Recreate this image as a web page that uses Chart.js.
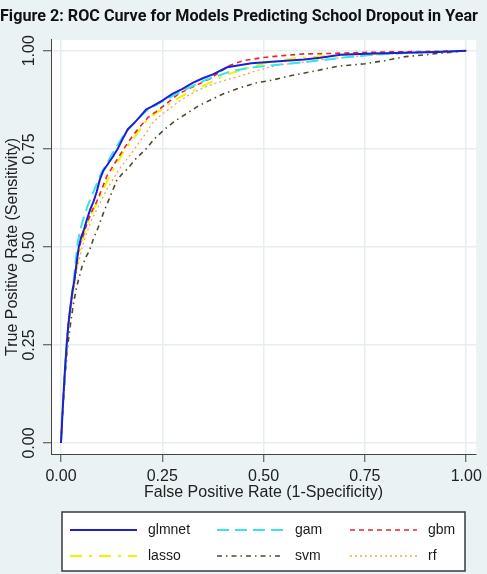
<!DOCTYPE html>
<html><head><meta charset="utf-8">
<script src="https://cdn.jsdelivr.net/npm/chart.js@4.4.1/dist/chart.umd.min.js"></script>
<style>html,body{margin:0;padding:0;background:#eaf2f3;overflow:hidden}</style>
</head><body>
<canvas id="c" width="487" height="574" style="display:block;width:487px;height:574px"></canvas>
<script>
// ---- data ----
const title = "Figure 2: ROC Curve for Models Predicting School Dropout in Year";
const xTitle = "False Positive Rate (1-Specificity)";
const yTitle = "True Positive Rate (Sensitivity)";
const tickValues = [0, 0.25, 0.5, 0.75, 1];
const modelNames = ["glmnet", "gam", "gbm", "lasso", "svm", "rf"];

const glmnetFpr = [0,0.003,0.006,0.010,0.014,0.018,0.023,0.028,0.033,0.038,0.044,0.050,0.057,0.064,0.072,0.080,0.088,0.096,0.105,0.115,0.128,0.140,0.152,0.165,0.180,0.195,0.210,0.225,0.250,0.275,0.300,0.325,0.350,0.375,0.410,0.470,0.520,0.600,0.640,0.690,0.770,0.850,0.930,1];
const glmnetTpr = [0,0.06,0.12,0.19,0.25,0.30,0.345,0.385,0.415,0.455,0.50,0.525,0.545,0.57,0.595,0.615,0.64,0.672,0.695,0.71,0.73,0.75,0.775,0.80,0.815,0.832,0.85,0.858,0.873,0.89,0.903,0.918,0.93,0.94,0.958,0.968,0.972,0.978,0.982,0.99,0.993,0.995,0.997,1];

const gamFpr = [0,0.003,0.007,0.011,0.015,0.019,0.025,0.031,0.036,0.041,0.048,0.056,0.066,0.076,0.088,0.100,0.112,0.125,0.138,0.152,0.166,0.182,0.198,0.215,0.235,0.260,0.285,0.310,0.335,0.360,0.390,0.420,0.460,0.510,0.560,0.610,0.660,0.710,0.770,0.840,0.910,1];
const gamTpr = [0,0.07,0.13,0.20,0.26,0.31,0.36,0.41,0.46,0.51,0.545,0.575,0.605,0.63,0.66,0.69,0.71,0.735,0.757,0.78,0.80,0.818,0.835,0.85,0.862,0.876,0.89,0.903,0.915,0.927,0.937,0.948,0.956,0.962,0.967,0.972,0.978,0.984,0.99,0.994,0.997,1];

const gbmFpr = [0,0.003,0.006,0.010,0.014,0.018,0.024,0.031,0.038,0.045,0.055,0.066,0.078,0.088,0.100,0.113,0.125,0.140,0.155,0.168,0.182,0.198,0.215,0.235,0.260,0.290,0.315,0.340,0.370,0.390,0.415,0.450,0.500,0.540,0.600,0.660,0.720,0.800,0.880,0.940,1];
const gbmTpr = [0,0.06,0.12,0.19,0.25,0.30,0.35,0.40,0.45,0.50,0.53,0.565,0.595,0.615,0.645,0.68,0.70,0.725,0.75,0.77,0.79,0.81,0.83,0.845,0.865,0.89,0.903,0.915,0.93,0.945,0.962,0.975,0.983,0.987,0.992,0.993,0.995,0.997,0.998,0.999,1];

const lassoFpr = [0,0.003,0.006,0.010,0.015,0.019,0.025,0.032,0.039,0.046,0.055,0.066,0.078,0.090,0.102,0.115,0.128,0.142,0.156,0.170,0.185,0.205,0.225,0.248,0.275,0.300,0.330,0.360,0.390,0.420,0.450,0.500,0.570,0.630,0.700,0.780,0.860,0.930,1];
const lassoTpr = [0,0.06,0.12,0.18,0.25,0.30,0.35,0.40,0.45,0.49,0.525,0.56,0.59,0.615,0.64,0.67,0.695,0.72,0.745,0.765,0.785,0.815,0.835,0.85,0.87,0.885,0.90,0.915,0.93,0.943,0.953,0.968,0.98,0.985,0.99,0.993,0.996,0.998,1];

const svmFpr = [0,0.003,0.007,0.011,0.017,0.023,0.030,0.037,0.043,0.052,0.062,0.070,0.080,0.092,0.106,0.118,0.128,0.138,0.150,0.165,0.185,0.210,0.230,0.256,0.280,0.310,0.340,0.370,0.400,0.440,0.480,0.520,0.560,0.620,0.680,0.750,0.800,0.850,0.900,0.950,1];
const svmTpr = [0,0.06,0.12,0.18,0.25,0.30,0.35,0.39,0.415,0.45,0.475,0.49,0.52,0.55,0.59,0.62,0.645,0.67,0.685,0.70,0.725,0.75,0.775,0.80,0.82,0.84,0.86,0.875,0.89,0.905,0.918,0.925,0.935,0.947,0.96,0.967,0.975,0.985,0.99,0.995,1];

const rfFpr = [0,0.003,0.007,0.011,0.015,0.020,0.026,0.033,0.041,0.050,0.060,0.072,0.086,0.100,0.115,0.130,0.145,0.160,0.175,0.195,0.210,0.225,0.245,0.265,0.290,0.320,0.350,0.375,0.405,0.435,0.470,0.510,0.540,0.590,0.640,0.700,0.780,0.860,0.930,1];
const rfTpr = [0,0.06,0.12,0.19,0.25,0.30,0.35,0.40,0.45,0.49,0.525,0.56,0.59,0.62,0.65,0.675,0.70,0.72,0.74,0.77,0.79,0.815,0.835,0.85,0.87,0.89,0.905,0.915,0.925,0.933,0.945,0.957,0.964,0.97,0.977,0.983,0.99,0.994,0.997,1];

const seriesFpr = [glmnetFpr, gamFpr, gbmFpr, lassoFpr, svmFpr, rfFpr];
const seriesTpr = [glmnetTpr, gamTpr, gbmTpr, lassoTpr, svmTpr, rfTpr];

// ---- styles ----
const styles = [
  {color:'#1f1fd2', width:2,   dash:[]},
  {color:'#38e3ef', width:2,   dash:[12,6]},
  {color:'#e3262a', width:1.6, dash:[5,4]},
  {color:'#f2f200', width:2,   dash:[12,7,3,7]},
  {color:'#4f4a2c', width:1.6, dash:[5,4,1.5,4]},
  {color:'#f2a356', width:1.3, dash:[2,3]}
];

const datasets = modelNames.map((name,i)=>({
  label: name,
  data: seriesFpr[i].map((x,j)=>({x:x, y:seriesTpr[i][j]})),
  borderColor: styles[i].color,
  backgroundColor: styles[i].color,
  borderWidth: styles[i].width,
  borderDash: styles[i].dash,
  pointRadius: 0,
  tension: 0,
  fill: false
}));

const BG = '#eaf2f3';
const bgPlugin = {
  id:'bg',
  beforeDraw(chart){
    const {ctx, chartArea:a} = chart;
    ctx.save();
    ctx.fillStyle = BG; ctx.fillRect(0,0,chart.width,chart.height);
    ctx.fillStyle = '#ffffff'; ctx.fillRect(a.left,a.top,a.right-a.left,a.bottom-a.top);
    ctx.restore();
  }
};

const legendPlugin = {
  id:'boxLegend',
  afterDraw(chart){
    const ctx = chart.ctx, a = chart.chartArea;
    const bx = a.left + 11, by = a.bottom + 58, bw = 403, bh = 59;
    ctx.save();
    ctx.fillStyle = '#ffffff';
    ctx.fillRect(bx,by,bw,bh);
    ctx.strokeStyle = '#3a3a3a'; ctx.lineWidth = 1.5;
    ctx.strokeRect(bx,by,bw,bh);
    const colX = [bx+8, bx+155, bx+288];
    const rowY = [by+18, by+44];
    ctx.font = '14px "Liberation Sans", Arial, sans-serif';
    ctx.textBaseline = 'middle';
    chart.data.datasets.forEach((ds,i)=>{
      const c = i%3, r = Math.floor(i/3);
      const x0 = colX[c], y0 = rowY[r];
      ctx.beginPath();
      ctx.setLineDash(ds.borderDash||[]);
      ctx.strokeStyle = ds.borderColor; ctx.lineWidth = ds.borderWidth;
      ctx.moveTo(x0,y0); ctx.lineTo(x0+67,y0); ctx.stroke();
      ctx.setLineDash([]);
      ctx.fillStyle = '#1a1a1a';
      ctx.fillText(ds.label, x0+78, y0);
    });
    ctx.restore();
  }
};

const tickFont = {family:'"Liberation Sans", Arial, sans-serif', size:16};
const setTicks = s => { s.ticks = tickValues.map(v=>({value:v})); };

new Chart(document.getElementById('c'), {
  type:'line',
  data:{datasets},
  plugins:[bgPlugin, legendPlugin],
  options:{
    responsive:false, animation:false, devicePixelRatio:1,
    layout:{padding:{top:0,left:0,right:9,bottom:72}},
    plugins:{
      legend:{display:false}, tooltip:{enabled:false},
      title:{display:true, text:title, color:'#111', padding:{top:7,bottom:13},
        font:{family:'Roboto, "Liberation Sans", sans-serif', size:16.5, weight:'bold'}}
    },
    scales:{
      x:{type:'linear', min:-0.0246, max:1.0246,
        afterBuildTicks:setTicks,
        afterFit:s=>{s.height=48;},
        grid:{color:'#e6eef0', lineWidth:1.5, tickColor:'#444', tickLength:8, tickWidth:1},
        border:{display:true, color:'#444', width:1},
        ticks:{font:tickFont, color:'#222', padding:5, maxRotation:0, callback:v=>v.toFixed(2)},
        title:{display:true, text:xTitle, font:tickFont, color:'#222', padding:{top:0,bottom:0}}
      },
      y:{type:'linear', min:-0.028, max:1.028,
        afterBuildTicks:setTicks,
        afterFit:s=>{s.width=51;},
        grid:{color:'#e6eef0', lineWidth:1.5, tickColor:'#444', tickLength:8, tickWidth:1},
        border:{display:true, color:'#444', width:1},
        ticks:{font:tickFont, color:'#222', padding:-2, minRotation:90, maxRotation:90, crossAlign:'center', callback:v=>v.toFixed(2)},
        title:{display:true, text:yTitle, font:tickFont, color:'#222', padding:{top:3,bottom:0}}
      }
    }
  }
});
</script>
</body></html>
